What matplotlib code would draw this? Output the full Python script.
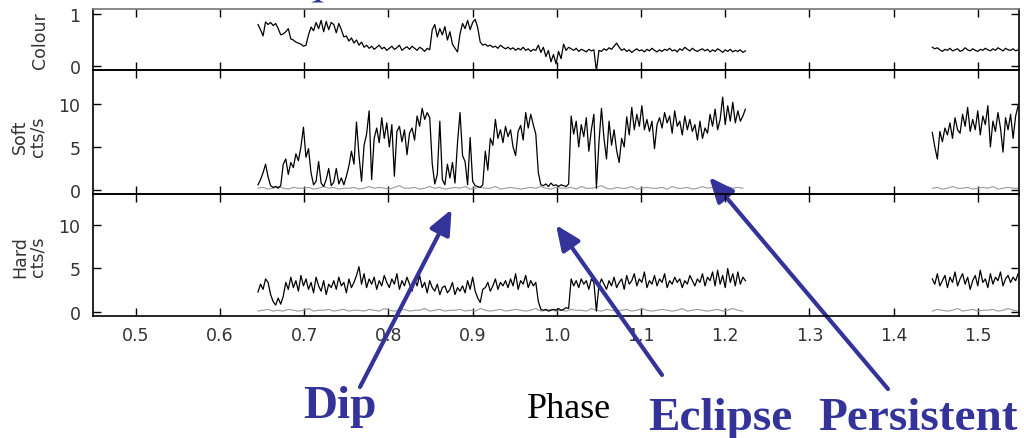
import numpy as np
import matplotlib
matplotlib.use("Agg")
import matplotlib.pyplot as plt
from matplotlib.patches import Polygon

# ---------------- data ----------------
phase1 = np.round(0.645 + 0.003 * np.arange(194), 4)   # first segment sampling
phase2 = np.round(1.446 + 0.003 * np.arange(35), 4)    # second segment sampling
bgphase1 = np.round(0.645 + 0.006 * np.arange(97), 4)
bgphase2 = np.round(1.446 + 0.006 * np.arange(18), 4)

colour1 = [0.80, 0.70, 0.58, 0.85, 0.80, 0.84, 0.78, 0.82, 0.72, 0.60,
           0.62, 0.66, 0.72, 0.52, 0.50, 0.46, 0.44, 0.42, 0.38, 0.40,
           0.60, 0.75, 0.68, 0.84, 0.72, 0.88, 0.66, 0.86, 0.70, 0.84,
           0.80, 0.64, 0.82, 0.70, 0.56, 0.58, 0.48, 0.54, 0.44, 0.50,
           0.40, 0.46, 0.36, 0.40, 0.34, 0.38, 0.32, 0.36, 0.40, 0.33,
           0.36, 0.30, 0.34, 0.38, 0.32, 0.35, 0.40, 0.30, 0.34, 0.37,
           0.32, 0.38, 0.34, 0.30, 0.36, 0.33, 0.28, 0.34, 0.31, 0.70,
           0.80, 0.56, 0.72, 0.60, 0.76, 0.50, 0.66, 0.42, 0.34, 0.27,
           0.62, 0.82, 0.72, 0.88, 0.70, 0.84, 0.90, 0.74, 0.46, 0.40,
           0.42, 0.38, 0.40, 0.36, 0.38, 0.34, 0.40, 0.36, 0.33, 0.36,
           0.32, 0.35, 0.30, 0.34, 0.31, 0.36, 0.30, 0.33, 0.28, 0.32,
           0.30, 0.40, 0.26, 0.36, 0.18, 0.30, 0.08, 0.22, 0.04, 0.28,
           0.14, 0.42, 0.30, 0.36, 0.33, 0.30, 0.34, 0.28, 0.32, 0.30,
           0.27, 0.32, 0.29, 0.31, -0.10, 0.30, 0.28, 0.33, 0.30, 0.35,
           0.32, 0.38, 0.44, 0.36, 0.30, 0.33, 0.28, 0.31, 0.26, 0.30,
           0.33, 0.29, 0.31, 0.27, 0.32, 0.29, 0.34, 0.30, 0.27, 0.31,
           0.28, 0.32, 0.30, 0.34, 0.29, 0.31, 0.27, 0.33, 0.30, 0.36,
           0.32, 0.29, 0.34, 0.30, 0.28, 0.31, 0.33, 0.29, 0.32, 0.27,
           0.31, 0.28, 0.33, 0.30, 0.26, 0.31, 0.28, 0.32, 0.27, 0.30,
           0.28, 0.31, 0.26, 0.29]
colour2 = [0.36, 0.33, 0.35, 0.31, 0.28, 0.32, 0.30, 0.34, 0.29, 0.31,
           0.33, 0.28, 0.30, 0.35, 0.31, 0.29, 0.33, 0.30, 0.28, 0.32,
           0.30, 0.34, 0.31, 0.29, 0.33, 0.30, 0.35, 0.32, 0.29, 0.34,
           0.31, 0.30, 0.33, 0.29, 0.31]

soft1 = [0.6, 1.2, 2.0, 3.0, 1.5, 0.5, 0.3, 0.4, 0.2, 0.5,
         3.0, 3.6, 1.8, 3.2, 2.6, 4.2, 3.4, 5.0, 7.3, 3.8,
         4.8, 2.0, 0.6, 1.0, 3.3, 0.8, 0.4, 1.2, 2.5, 0.5,
         0.9, 2.5, 0.7, 1.4, 0.6, 1.6, 2.8, 4.5, 3.0, 7.9,
         4.0, 1.0, 5.2, 6.5, 9.2, 1.2, 6.0, 7.2, 5.5, 8.4,
         6.0, 7.8, 5.0, 7.6, 1.6, 6.8, 7.4, 5.6, 7.0, 4.1,
         6.6, 7.2, 5.8, 8.6, 7.4, 9.5, 8.2, 9.0, 8.4, 3.0,
         0.7, 1.8, 8.0, 1.2, 0.6, 3.0, 1.4, 3.2, 0.8, 5.5,
         9.0, 4.0, 3.3, 0.6, 6.1, 1.0, 0.5, 0.4, 0.3, 0.6,
         4.5, 2.3, 6.0, 5.2, 8.2, 6.0, 7.0, 5.5, 7.4, 6.2,
         7.0, 5.0, 4.0, 6.8, 7.5, 5.8, 9.0, 7.2, 8.8, 7.6,
         6.5, 2.0, 0.6, 0.5, 0.7, 0.4, 0.8, 0.5, 0.6, 0.4,
         0.6, 0.5, 0.4, 0.7, 8.6, 6.5, 8.0, 5.0, 7.6, 6.2,
         8.4, 4.5, 7.0, 8.8, 0.2, 5.5, 9.5, 6.0, 3.6, 8.0,
         5.2, 7.0, 4.6, 3.2, 6.0, 5.0, 8.5, 6.4, 9.6, 7.0,
         8.8, 7.4, 9.8, 7.0, 8.2, 6.8, 8.0, 4.8, 7.6, 8.4,
         7.2, 9.0, 7.8, 8.6, 6.6, 9.2, 7.4, 8.0, 6.4, 8.6,
         7.0, 8.2, 6.8, 7.6, 5.8, 8.0, 6.0, 7.2, 6.6, 8.8,
         7.4, 9.4, 7.0, 8.2, 10.8, 7.6, 9.8, 8.0, 10.2, 7.8,
         9.2, 8.0, 8.6, 9.4]
soft2 = [6.7, 5.0, 3.6, 6.8, 5.6, 7.2, 6.4, 7.8, 6.0, 8.4,
         7.0, 6.6, 8.8, 7.4, 9.6, 6.8, 8.2, 7.0, 9.2, 6.4,
         8.6, 7.6, 9.8, 5.0, 8.0, 6.8, 9.0, 7.2, 4.4, 8.4,
         7.0, 8.8, 6.0, 8.6, 9.8]

hard1 = [2.3, 3.2, 2.6, 3.8, 3.4, 2.0, 1.2, 0.8, 1.6, 0.9,
         1.8, 3.4, 2.6, 4.0, 2.8, 3.6, 2.4, 4.2, 3.0, 3.8,
         2.6, 3.4, 2.2, 4.0, 3.0, 2.4, 3.6, 2.0, 3.2, 2.8,
         3.6, 2.6, 4.0, 3.0, 3.4, 2.2, 3.8, 2.8, 3.4, 4.2,
         5.2, 3.2, 4.4, 2.8, 3.8, 3.2, 4.0, 2.6, 3.6, 3.0,
         4.2, 3.4, 2.8, 3.8, 3.2, 4.4, 2.6, 3.6, 3.0, 4.0,
         3.2, 2.4, 3.8, 3.0, 4.2, 2.8, 3.4, 2.2, 3.6, 2.8,
         2.4, 3.2, 2.0, 2.8, 3.0, 2.2, 2.6, 3.4, 2.0, 2.8,
         2.4, 3.0, 2.2, 3.6, 2.6, 4.0, 2.4, 1.6, 1.1, 2.6,
         2.8, 3.4, 2.4, 3.0, 3.8, 2.6, 3.4, 3.0, 3.6, 2.8,
         3.8, 3.0, 4.4, 2.6, 3.6, 3.2, 4.2, 2.8, 3.6, 3.0,
         3.4, 1.2, 0.3, 0.2, 0.3, 0.1, 0.2, 0.3, 0.2, 0.4,
         0.2, 0.3, 0.5, 0.4, 3.8, 3.0, 3.6, 2.8, 3.8, 3.2,
         3.6, 2.6, 3.8, 3.4, 0.1, 3.0, 3.8, 3.2, 2.6, 3.6,
         3.0, 4.0, 2.8, 3.4, 3.8, 2.6, 4.2, 3.2, 3.6, 4.4,
         3.0, 3.8, 3.4, 4.6, 2.8, 3.6, 3.2, 4.2, 3.0, 3.8,
         3.4, 4.4, 2.8, 3.6, 3.2, 4.0, 3.4, 3.8, 2.8, 3.6,
         3.2, 4.2, 3.6, 3.0, 3.8, 3.4, 4.4, 3.0, 4.0, 3.6,
         4.6, 3.0, 4.8, 3.2, 4.2, 2.8, 5.0, 3.4, 4.4, 3.0,
         4.6, 3.2, 4.0, 3.6]
hard2 = [3.8, 3.2, 4.4, 3.0, 3.6, 4.2, 2.8, 4.0, 3.4, 4.6,
         3.0, 3.8, 4.4, 3.2, 4.0, 2.6, 3.6, 4.2, 3.0, 4.8,
         3.4, 3.8, 2.8, 4.4, 3.2, 4.0, 3.6, 4.6, 3.0, 3.8,
         4.2, 3.4, 4.0, 3.6, 4.4]

softbg1 = [0.2, 0.3, 0.1, 0.2, 0.4, 0.2, 0.1, 0.3, 0.2, 0.2,
           0.3, 0.1, 0.2, 0.4, 0.2, 0.3, 0.1, 0.2, 0.2, 0.3,
           0.1, 0.2, 0.4, 0.2, 0.3, 0.2, 0.1, 0.3, 0.5, 0.2,
           0.2, 0.3, 0.1, 0.2, 0.4, 0.2, 0.3, 0.1, 0.2, 0.3,
           0.2, 0.4, 0.1, 0.2, 0.3, 0.2, 0.2, 0.4, 0.1, 0.2,
           0.3, 0.2, 0.1, 0.2, 0.3, 0.2, 0.4, 0.2, 0.1, 0.3,
           0.2, 0.2, 0.3, 0.1, 0.4, 0.2, 0.2, 0.3, 0.5, 0.2,
           0.1, 0.3, 0.2, 0.2, 0.4, 0.1, 0.2, 0.3, 0.2, 0.2,
           0.3, 0.1, 0.4, 0.2, 0.2, 0.3, 0.1, 0.2, 0.4, 0.2,
           0.3, 0.2, 0.1, 0.4, 0.2, 0.3, 0.2]
softbg2 = [0.2, 0.3, 0.1, 0.2, 0.4, 0.2, 0.2, 0.3, 0.1,
           0.2, 0.3, 0.2, 0.4, 0.1, 0.2, 0.3, 0.2, 0.2]
hardbg1 = [0.1, 0.2, 0.3, 0.1, 0.2, 0.1, 0.3, 0.2, 0.1, 0.2,
           0.4, 0.1, 0.2, 0.2, 0.3, 0.1, 0.2, 0.3, 0.1, 0.2,
           0.2, 0.1, 0.3, 0.2, 0.1, 0.4, 0.2, 0.1, 0.2, 0.3,
           0.1, 0.2, 0.2, 0.4, 0.1, 0.2, 0.3, 0.1, 0.2, 0.2,
           0.3, 0.1, 0.2, 0.1, 0.4, 0.2, 0.1, 0.2, 0.3, 0.1,
           0.2, 0.3, 0.2, 0.1, 0.2, 0.4, 0.1, 0.2, 0.3, 0.1,
           0.2, 0.1, 0.3, 0.2, 0.2, 0.1, 0.4, 0.2, 0.1, 0.3,
           0.2, 0.1, 0.2, 0.3, 0.1, 0.2, 0.4, 0.2, 0.1, 0.2,
           0.3, 0.2, 0.1, 0.2, 0.4, 0.1, 0.2, 0.3, 0.2, 0.1,
           0.2, 0.3, 0.1, 0.2, 0.4, 0.2, 0.1]
hardbg2 = [0.1, 0.3, 0.2, 0.1, 0.2, 0.4, 0.1, 0.2, 0.3,
           0.1, 0.2, 0.2, 0.3, 0.1, 0.2, 0.4, 0.2, 0.1]

xticks = [0.5, 0.6, 0.7, 0.8, 0.9, 1.0, 1.1, 1.2, 1.3, 1.4, 1.5]
xticklabels = ["0.5", "0.6", "0.7", "0.8", "0.9", "1.0", "1.1", "1.2", "1.3", "1.4", "1.5"]

# ---------------- figure ----------------
W, H = 1024, 439
fig = plt.figure(figsize=(W / 100, H / 100), dpi=100)
plt.rcParams['font.family'] = ['DejaVu Sans']

left = 93 / W
width = (1019 - 93) / W

def fy(px):
    return 1 - px / H

ax_c = fig.add_axes([left, fy(71), width, fy(10) - fy(71)])
ax_s = fig.add_axes([left, fy(195), width, fy(71) - fy(195)])
ax_h = fig.add_axes([left, fy(317), width, fy(195) - fy(317)])

BLUE = '#333399'
LW = 0.9

ax_c.plot(phase1, colour1, color='black', lw=LW)
ax_c.plot(phase2, colour2, color='black', lw=LW)

ax_s.plot(bgphase1, softbg1, color='#9a9a9a', lw=0.8)
ax_s.plot(bgphase2, softbg2, color='#9a9a9a', lw=0.8)
ax_s.plot(phase1, soft1, color='black', lw=LW)
ax_s.plot(phase2, soft2, color='black', lw=LW)

ax_h.plot(bgphase1, hardbg1, color='#9a9a9a', lw=0.8)
ax_h.plot(bgphase2, hardbg2, color='#9a9a9a', lw=0.8)
ax_h.plot(phase1, hard1, color='black', lw=LW)
ax_h.plot(phase2, hard2, color='black', lw=LW)

ax_c.set_ylim(-0.08, 1.1)
ax_s.set_ylim(-0.47, 13.95)
ax_h.set_ylim(-0.46, 13.56)
ax_c.set_yticks([0, 1])
ax_s.set_yticks([0, 5, 10])
ax_h.set_yticks([0, 5, 10])

for ax in (ax_c, ax_s, ax_h):
    ax.set_xlim(0.449, 1.549)
    ax.set_xticks(xticks)
    ax.tick_params(direction='in', length=5.5, width=1.0, top=True, right=True,
                   labelsize=12.5, labelcolor='#333333', pad=9)
    for sp in ax.spines.values():
        sp.set_linewidth(1.2)
    ax.set_facecolor('none')

ax_c.spines['top'].set_color('#777777')
ax_c.tick_params(labelbottom=False)
ax_s.tick_params(labelbottom=False)
ax_h.set_xticklabels(xticklabels)
ax_h.tick_params(axis='x', pad=7)

# y labels
fig.text(40 / W, fy(41), "Colour", rotation=90, ha='center', va='center',
         fontsize=12.5, color='#333333')
fig.text(29 / W, fy(137), "Soft\ncts/s", rotation=90, ha='center', va='center',
         fontsize=12.5, color='#333333', linespacing=0.95, multialignment='center')
fig.text(29 / W, fy(257), "Hard\ncts/s", rotation=90, ha='center', va='center',
         fontsize=12.5, color='#333333', linespacing=0.95, multialignment='center')

# annotation texts
serif = ['Liberation Serif', 'DejaVu Serif']
fig.text(303 / W, fy(418), "Dip", fontsize=34, fontweight='bold', color=BLUE,
         family=serif, ha='left', va='baseline')
fig.text(527 / W, fy(418), "Phase", fontsize=26, color='black',
         family=serif, ha='left', va='baseline')
fig.text(648 / W, fy(430), "Eclipse", fontsize=34, fontweight='bold', color=BLUE,
         family=serif, ha='left', va='baseline')
fig.text(818 / W, fy(430), "Persistent", fontsize=34, fontweight='bold', color=BLUE,
         family=serif, ha='left', va='baseline')

# small blue fragment visible at the very top edge
frag = Polygon([(316 / W, fy(0)), (320 / W, fy(0)), (320 / W, fy(1.5)),
                (324 / W, fy(3.5)), (311 / W, fy(3.5)), (316 / W, fy(1.5))],
               closed=True, transform=fig.transFigure, color=BLUE, lw=0)
fig.add_artist(frag)

arrowprops = dict(arrowstyle='-|>,head_length=1.5,head_width=0.65', color=BLUE,
                  lw=3, shrinkA=0, shrinkB=0, mutation_scale=10)
ax_h.annotate("", xy=(0.875, 11.8), xycoords='data',
              xytext=(360, H - 388), textcoords='figure pixels',
              arrowprops=arrowprops, annotation_clip=False)
ax_h.annotate("", xy=(0.999, 10.0), xycoords='data',
              xytext=(662, H - 376), textcoords='figure pixels',
              arrowprops=arrowprops, annotation_clip=False)
ax_s.annotate("", xy=(1.181, 1.5), xycoords='data',
              xytext=(888, H - 390), textcoords='figure pixels',
              arrowprops=arrowprops, annotation_clip=False)

fig.savefig("out.png", dpi=100)
